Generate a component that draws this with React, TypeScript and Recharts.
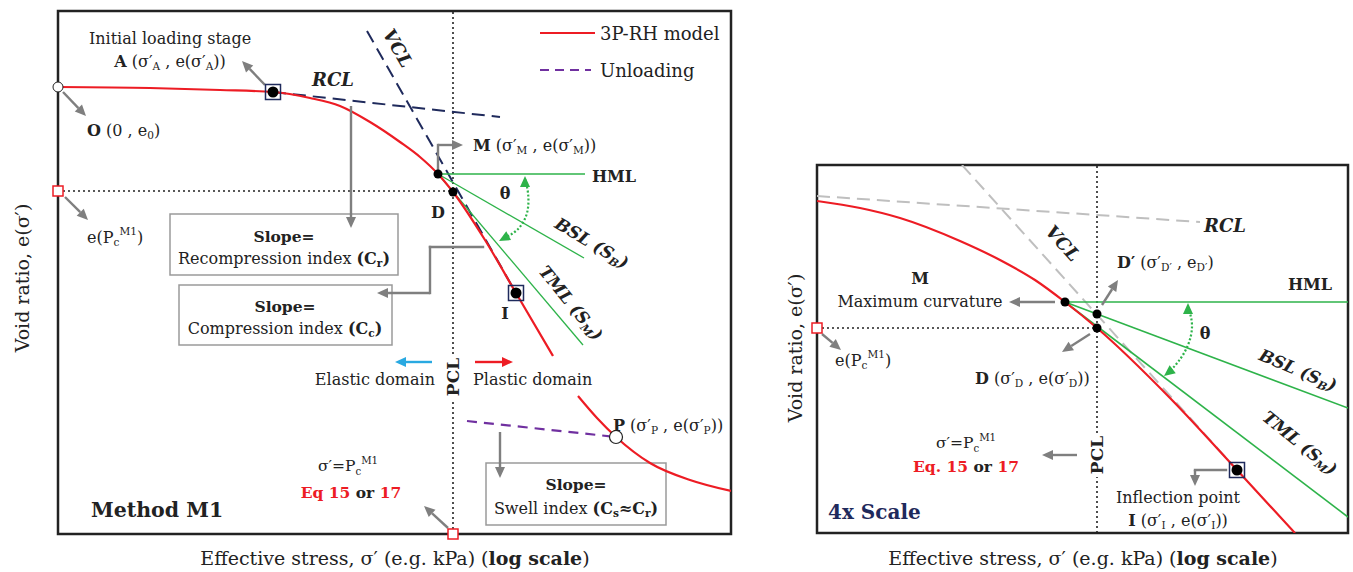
import React from "react";
import {
  ComposedChart,
  Line,
  XAxis,
  YAxis,
  ReferenceLine,
  ReferenceDot,
  ReferenceArea,
} from "recharts";

const FONT = "'DejaVu Serif', 'Liberation Serif', serif";
const RED = "#ed1c24";
const GREEN = "#2eb34a";
const NAVY = "#1f2a5c";
const PURPLE = "#7030a0";
const GRAY = "#7f7f7f";
const BLUE = "#29a9e1";
const LIGHT = "#bfbfbf";
const INK = "#222";

// ---- Method M1 panel (relative log stress s, relative void ratio e) ----
const m1Curve = [
  { s: 0, e: 447 }, { s: 92, e: 446 }, { s: 162, e: 444 }, { s: 215, e: 442 },
  { s: 252, e: 436 }, { s: 282, e: 428 }, { s: 312, e: 412 }, { s: 342, e: 392 },
  { s: 362, e: 377 }, { s: 380, e: 360 }, { s: 395, e: 342 }, { s: 427, e: 294 },
  { s: 458, e: 241 }, { s: 495, e: 178 }, { s: 508, e: null },
  { s: 520, e: 138 }, { s: 539, e: 116 }, { s: 558, e: 97 }, { s: 592, e: 71 },
  { s: 632, e: 54 }, { s: 673, e: 43 },
];
const m1Rcl = [{ s: 215, e: 442 }, { s: 442, e: 417 }];
const m1Vcl = [{ s: 309, e: 503 }, { s: 458, e: 241 }];
const m1Hml = [{ s: 380, e: 360 }, { s: 527, e: 360 }];
const m1Bsl = [{ s: 380, e: 360 }, { s: 526, e: 276 }];
const m1Tml = [{ s: 380, e: 360 }, { s: 525, e: 189 }];
const m1Unload = [{ s: 409, e: 113 }, { s: 558, e: 97 }];
const m1Theta = [
  { s: 467, e: 355 }, { s: 470, e: 341 }, { s: 469, e: 321 }, { s: 459, e: 304 }, { s: 444, e: 295 },
];
const m1PcLevel = [{ s: 0, e: 343 }, { s: 395, e: 343 }];
const m1Pcl = [{ s: 395, e: 0 }, { s: 395, e: 523 }];

// ---- 4x scale panel ----
const m4Curve = [
  { s: 0, e: 332 }, { s: 43, e: 325 }, { s: 83, e: 315 }, { s: 143, e: 292 },
  { s: 183, e: 273 }, { s: 218, e: 253 }, { s: 248, e: 231 }, { s: 280, e: 205 },
  { s: 353, e: 135 }, { s: 420, e: 63 }, { s: 478, e: 0 },
];
const m4Rcl = [{ s: 0, e: 337 }, { s: 383, e: 311 }];
const m4Vcl = [{ s: 145, e: 368 }, { s: 420, e: 63 }];
const m4Hml = [{ s: 248, e: 231 }, { s: 531, e: 231 }];
const m4Bsl = [{ s: 248, e: 231 }, { s: 531, e: 125 }];
const m4Tml = [{ s: 248, e: 231 }, { s: 531, e: 16 }];
const m4Theta = [
  { s: 371, e: 226 }, { s: 375, e: 208 }, { s: 371, e: 188 }, { s: 361, e: 171 }, { s: 350, e: 159 },
];
const m4PcLevel = [{ s: 0, e: 205 }, { s: 280, e: 205 }];
const m4Pcl = [{ s: 280, e: 0 }, { s: 280, e: 368 }];

type Seg = { t: string; b?: boolean; v?: "sub" | "sup"; c?: string };
type NoteOpt = {
  fs?: number;
  anchor?: "start" | "middle" | "end";
  rot?: number;
  bg?: [number, number];
  color?: string;
  bold?: boolean;
  italic?: boolean;
};

function rich(segs: Seg[], fs: number) {
  let shift = 0;
  return segs.map((sg, i) => {
    const target = sg.v === "sub" ? fs * 0.3 : sg.v === "sup" ? -fs * 0.38 : 0;
    const dy = target - shift;
    shift = target;
    return (
      <tspan
        key={i}
        dy={dy || undefined}
        fontSize={sg.v ? fs * 0.66 : undefined}
        fontWeight={sg.b ? 700 : undefined}
        fill={sg.c}
      >
        {sg.t}
      </tspan>
    );
  });
}

const noteShape = (segs: Seg[] | string, o: NoteOpt) => (p: any) => {
  const fs = o.fs ?? 16;
  const { cx, cy } = p;
  return (
    <g transform={o.rot ? `rotate(${o.rot} ${cx} ${cy})` : undefined}>
      {o.bg && (
        <rect x={cx - o.bg[0] / 2} y={cy - o.bg[1] / 2} width={o.bg[0]} height={o.bg[1]} fill="#fff" />
      )}
      <text
        x={cx}
        y={cy}
        dominantBaseline="central"
        textAnchor={o.anchor ?? "middle"}
        fontSize={fs}
        fontFamily={FONT}
        fill={o.color ?? INK}
        fontWeight={o.bold ? 700 : 400}
        fontStyle={o.italic ? "italic" : undefined}
      >
        {typeof segs === "string" ? segs : rich(segs, fs)}
      </text>
    </g>
  );
};

function note(key: string, x: number, y: number, segs: Seg[] | string, o: NoteOpt = {}) {
  return <ReferenceDot key={key} x={x} y={y} r={0} ifOverflow="visible" shape={noteShape(segs, o)} />;
}

const arrowShape = (color: string, head: boolean, w: number, noLine = false) => (p: any) => {
  const { x1, y1, x2, y2 } = p;
  const a = Math.atan2(y2 - y1, x2 - x1);
  const L = 11;
  const H = 5;
  const bx = x2 - L * Math.cos(a);
  const by = y2 - L * Math.sin(a);
  const nx = -Math.sin(a) * H;
  const ny = Math.cos(a) * H;
  return (
    <g>
      {!noLine && (
        <line
          x1={x1}
          y1={y1}
          x2={head ? bx : x2}
          y2={head ? by : y2}
          stroke={color}
          strokeWidth={w}
          strokeLinecap={head ? "butt" : "square"}
        />
      )}
      {head && <polygon points={`${x2},${y2} ${bx + nx},${by + ny} ${bx - nx},${by - ny}`} fill={color} />}
    </g>
  );
};

function arrow(id: string, pts: number[][], color = GRAY, w = 2.4, noLine = false) {
  return pts.slice(1).map((pt, i) => (
    <ReferenceLine
      key={`${id}${i}`}
      segment={[{ x: pts[i][0], y: pts[i][1] }, { x: pt[0], y: pt[1] }]}
      ifOverflow="visible"
      shape={arrowShape(color, i === pts.length - 2, w, noLine)}
    />
  ));
}

function box(key: string, x1: number, x2: number, y1: number, y2: number) {
  return (
    <ReferenceArea key={key} x1={x1} x2={x2} y1={y1} y2={y2} fill="#fff" fillOpacity={1} stroke="#9a9a9a" strokeWidth={1.5} ifOverflow="visible" />
  );
}

const squareShape = (color: string, size: number) => (p: any) => (
  <rect x={p.cx - size / 2} y={p.cy - size / 2} width={size} height={size} fill="#fff" fillOpacity={color === RED ? 1 : 0} stroke={color} strokeWidth={1.5} />
);

const guide = (data: any[], stroke: string, width: number, dash?: string, type: any = "linear") => (
  <Line
    data={data}
    dataKey="e"
    type={type}
    stroke={stroke}
    strokeWidth={width}
    strokeDasharray={dash}
    dot={false}
    activeDot={false}
    isAnimationActive={false}
  />
);

const yTitle: Seg[] = [{ t: "Void ratio, e(σ′)" }];
const xTitle: Seg[] = [{ t: "Effective stress, σ′ (e.g. kPa) (" }, { t: "log scale", b: true }, { t: ")" }];
const pcM1: Seg[] = [{ t: "e(P" }, { t: "c", v: "sub" }, { t: "M1", v: "sup" }, { t: ")" }];
const sigmaPc: Seg[] = [{ t: "σ′=P" }, { t: "c", v: "sub" }, { t: "M1", v: "sup" }];

function MethodM1() {
  return (
    <ComposedChart width={760} height={572} margin={{ top: 11, right: 29, bottom: 38, left: 58 }}>
      <XAxis type="number" dataKey="s" domain={[0, 673]} hide allowDataOverflow />
      <YAxis type="number" domain={[0, 523]} hide allowDataOverflow />
      <ReferenceArea x1={0} x2={673} y1={0} y2={523} fill="none" stroke={INK} strokeWidth={2.5} />

      {guide(m1PcLevel, INK, 1.6, "2 3")}
      {guide(m1Pcl, INK, 1.6, "2 3")}
      {guide(m1Rcl, NAVY, 2, "13 7")}
      {guide(m1Vcl, NAVY, 2, "13 7")}
      {guide(m1Hml, GREEN, 1.3)}
      {guide(m1Bsl, GREEN, 1.3)}
      {guide(m1Tml, GREEN, 1.3)}
      {guide(m1Unload, PURPLE, 2.2, "10 7")}
      {guide(m1Curve, RED, 2.2, undefined, "monotone")}
      {guide(m1Theta, GREEN, 2.2, "2 2", "natural")}
      {arrow("th1", [[467, 347], [467, 358]], GREEN, 2, true)}
      {arrow("th2", [[452, 299], [441, 293]], GREEN, 2, true)}

      {box("b1", 112, 340, 259, 320)}
      {box("b2", 121, 334, 189, 249)}
      {box("b3", 428, 608, 9, 71)}

      {arrow("a", [[207, 449], [184, 473]])}
      {arrow("o", [[5, 442], [28, 418]])}
      {arrow("pc", [[7, 337], [30, 314]])}
      {arrow("rcl", [[293, 428], [293, 306]])}
      {arrow("cc", [[425, 287], [372, 287], [372, 241], [319, 241]])}
      {arrow("m", [[380, 365], [380, 389], [405, 389]])}
      {arrow("cs", [[442, 102], [442, 56]])}
      {arrow("eq", [[390, 6], [366, 28]])}
      {arrow("el", [[374, 172], [337, 172]], BLUE, 2.4)}
      {arrow("pl", [[417, 172], [455, 172]], RED, 2.4)}

      <ReferenceLine segment={[{ x: 482, y: 501 }, { x: 537, y: 501 }]} stroke={RED} strokeWidth={2.2} />
      <ReferenceLine segment={[{ x: 482, y: 464 }, { x: 533, y: 464 }]} stroke={PURPLE} strokeWidth={2.2} strokeDasharray="9 6" />

      <ReferenceDot x={215} y={442} r={0} shape={squareShape(NAVY, 15)} />
      <ReferenceDot x={458} y={241} r={0} shape={squareShape(NAVY, 15)} />
      <ReferenceDot x={0} y={343} r={0} ifOverflow="visible" shape={squareShape(RED, 10)} />
      <ReferenceDot x={395} y={0} r={0} ifOverflow="visible" shape={squareShape(RED, 10)} />
      <ReferenceDot x={215} y={442} r={5.5} fill="#000" stroke="none" />
      <ReferenceDot x={380} y={360} r={4.5} fill="#000" stroke="none" />
      <ReferenceDot x={395} y={342} r={4.5} fill="#000" stroke="none" />
      <ReferenceDot x={458} y={241} r={5.5} fill="#000" stroke="none" />
      <ReferenceDot x={0} y={447} r={5} fill="#fff" stroke={INK} strokeWidth={1} ifOverflow="visible" />
      <ReferenceDot x={558} y={97} r={6.5} fill="#fff" stroke={INK} strokeWidth={1.2} />

      {note("yt", -36, 256, yTitle, { fs: 19, rot: -90 })}
      {note("xt", 337, -24, xTitle, { fs: 19 })}
      {note("ini", 112, 496, "Initial loading stage")}
      {note("A", 112, 473, [{ t: "A", b: true }, { t: " (σ′" }, { t: "A", v: "sub" }, { t: " , e(σ′" }, { t: "A", v: "sub" }, { t: "))" }])}
      {note("rcl", 275, 455, "RCL", { fs: 18, bold: true, italic: true })}
      {note("vcl", 340, 486, "VCL", { fs: 18, bold: true, italic: true, rot: 60 })}
      {note("O", 29, 404, [{ t: "O", b: true }, { t: " (0 , e" }, { t: "0", v: "sub" }, { t: ")" }], { anchor: "start" })}
      {note("epc", 29, 297, pcM1, { anchor: "start" })}
      {note("s1", 226, 298, "Slope=", { fs: 15.5, bold: true })}
      {note("r1", 226, 276, [{ t: "Recompression index " }, { t: "(C", b: true }, { t: "r", b: true, v: "sub" }, { t: ")", b: true }])}
      {note("s2", 227, 228, "Slope=", { fs: 15.5, bold: true })}
      {note("r2", 227, 206, [{ t: "Compression index " }, { t: "(C", b: true }, { t: "c", b: true, v: "sub" }, { t: ")", b: true }])}
      {note("s3", 518, 50, "Slope=", { fs: 15.5, bold: true })}
      {note("r3", 518, 26, [{ t: "Swell index " }, { t: "(C", b: true }, { t: "s", b: true, v: "sub" }, { t: "≈C", b: true }, { t: "r", b: true, v: "sub" }, { t: ")", b: true }])}
      {note("M", 415, 389, [{ t: "M", b: true }, { t: " (σ′" }, { t: "M", v: "sub" }, { t: " , e(σ′" }, { t: "M", v: "sub" }, { t: "))" }], { anchor: "start" })}
      {note("D", 380, 322, "D", { bold: true })}
      {note("I", 447, 221, "I", { bold: true })}
      {note("th", 447, 341, "θ", { bold: true })}
      {note("hml", 534, 358, "HML", { fs: 16, bold: true, anchor: "start" })}
      {note("bsl", 534, 291, [{ t: "BSL (S" }, { t: "B", v: "sub" }, { t: ")" }], { fs: 17, bold: true, italic: true, rot: 31 })}
      {note("tml", 513, 231, [{ t: "TML (S" }, { t: "M", v: "sub" }, { t: ")" }], { fs: 17, bold: true, italic: true, rot: 51 })}
      {note("ed", 377, 155, "Elastic domain", { anchor: "end" })}
      {note("pd", 415, 155, "Plastic domain", { anchor: "start" })}
      {note("pcl", 395, 157, "PCL", { fs: 17, bold: true, rot: -90, bg: [44, 22] })}
      {note("P", 555, 109, [{ t: "P", b: true }, { t: " (σ′" }, { t: "P", v: "sub" }, { t: " , e(σ′" }, { t: "P", v: "sub" }, { t: "))" }], { anchor: "start" })}
      {note("lg1", 542, 501, "3P-RH model", { fs: 18, anchor: "start" })}
      {note("lg2", 542, 464, "Unloading", { fs: 18, anchor: "start" })}
      {note("spc", 290, 68, sigmaPc, { fs: 15.5 })}
      {note("eq", 293, 42, [{ t: "Eq 15 ", c: RED }, { t: "or " }, { t: "17", c: RED }], { fs: 15.5, bold: true })}
      {note("m1", 33, 24, "Method M1", { fs: 20.5, bold: true, anchor: "start" })}
    </ComposedChart>
  );
}

function ScaledView() {
  return (
    <ComposedChart width={593} height={572} margin={{ top: 165, right: 5, bottom: 39, left: 57 }}>
      <XAxis type="number" dataKey="s" domain={[0, 531]} hide allowDataOverflow />
      <YAxis type="number" domain={[0, 368]} hide allowDataOverflow />
      <ReferenceArea x1={0} x2={531} y1={0} y2={368} fill="none" stroke={INK} strokeWidth={2.5} />

      {guide(m4PcLevel, INK, 1.6, "2 3")}
      {guide(m4Pcl, INK, 1.6, "2 3")}
      {guide(m4Rcl, LIGHT, 2, "13 7")}
      {guide(m4Vcl, LIGHT, 2, "13 7")}
      {guide(m4Hml, GREEN, 1.6)}
      {guide(m4Bsl, GREEN, 1.6)}
      {guide(m4Tml, GREEN, 1.6)}
      {guide(m4Curve, RED, 2.2, undefined, "monotone")}
      {guide(m4Theta, GREEN, 2.2, "2 2", "natural")}
      {arrow("th1", [[371, 218], [371, 230]], GREEN, 2, true)}
      {arrow("th2", [[356, 164], [347, 157]], GREEN, 2, true)}

      {arrow("m", [[238, 231], [192, 231]])}
      {arrow("dp", [[285, 228], [301, 253]])}
      {arrow("d", [[273, 199], [245, 181]])}
      {arrow("pc", [[5, 199], [24, 183]])}
      {arrow("eq", [[260, 78], [225, 78]])}
      {arrow("inf", [[409, 63], [378, 63], [378, 47]])}

      <ReferenceDot x={420} y={63} r={0} shape={squareShape(NAVY, 15)} />
      <ReferenceDot x={0} y={205} r={0} ifOverflow="visible" shape={squareShape(RED, 10)} />
      <ReferenceDot x={248} y={231} r={4.5} fill="#000" stroke="none" />
      <ReferenceDot x={280} y={219} r={4.5} fill="#000" stroke="none" />
      <ReferenceDot x={280} y={205} r={4.5} fill="#000" stroke="none" />
      <ReferenceDot x={420} y={63} r={5.5} fill="#000" stroke="none" />

      {note("yt", -22, 185, yTitle, { fs: 19, rot: -90 })}
      {note("xt", 266, -25, xTitle, { fs: 19 })}
      {note("rcl", 408, 308, "RCL", { fs: 18, bold: true, italic: true })}
      {note("vcl", 246, 290, "VCL", { fs: 18, bold: true, italic: true, rot: 48 })}
      {note("hml", 493, 249, "HML", { fs: 16, bold: true })}
      {note("bsl", 481, 163, [{ t: "BSL (S" }, { t: "B", v: "sub" }, { t: ")" }], { fs: 17, bold: true, italic: true, rot: 23 })}
      {note("tml", 483, 90, [{ t: "TML (S" }, { t: "M", v: "sub" }, { t: ")" }], { fs: 17, bold: true, italic: true, rot: 39 })}
      {note("th", 388, 200, "θ", { bold: true })}
      {note("Mb", 103, 255, "M", { bold: true })}
      {note("Mc", 103, 232, "Maximum curvature")}
      {note("Dp", 300, 271, [{ t: "D′", b: true }, { t: " (σ′" }, { t: "D′", v: "sub" }, { t: " , e" }, { t: "D′", v: "sub" }, { t: ")" }], { anchor: "start" })}
      {note("D", 158, 155, [{ t: "D", b: true }, { t: " (σ′" }, { t: "D", v: "sub" }, { t: " , e(σ′" }, { t: "D", v: "sub" }, { t: "))" }], { anchor: "start" })}
      {note("epc", 18, 173, pcM1, { anchor: "start" })}
      {note("spc", 149, 90, sigmaPc, { fs: 15.5 })}
      {note("eq", 149, 67, [{ t: "Eq. 15 ", c: RED }, { t: "or " }, { t: "17", c: RED }], { fs: 15.5, bold: true })}
      {note("pcl", 280, 78, "PCL", { fs: 17, bold: true, rot: -90, bg: [44, 22] })}
      {note("ip", 361, 36, "Inflection point")}
      {note("I", 361, 13, [{ t: "I", b: true }, { t: " (σ′" }, { t: "I", v: "sub" }, { t: " , e(σ′" }, { t: "I", v: "sub" }, { t: "))" }])}
      {note("x4", 11, 21, "4x Scale", { fs: 20, bold: true, anchor: "start", color: NAVY })}
    </ComposedChart>
  );
}

export default function App() {
  return (
    <div style={{ position: "absolute", left: 0, top: 0, width: 1353, height: 572, background: "#fff", fontFamily: FONT }}>
      <div style={{ position: "absolute", left: 0, top: 0 }}>
        <MethodM1 />
      </div>
      <div style={{ position: "absolute", left: 760, top: 0 }}>
        <ScaledView />
      </div>
    </div>
  );
}
